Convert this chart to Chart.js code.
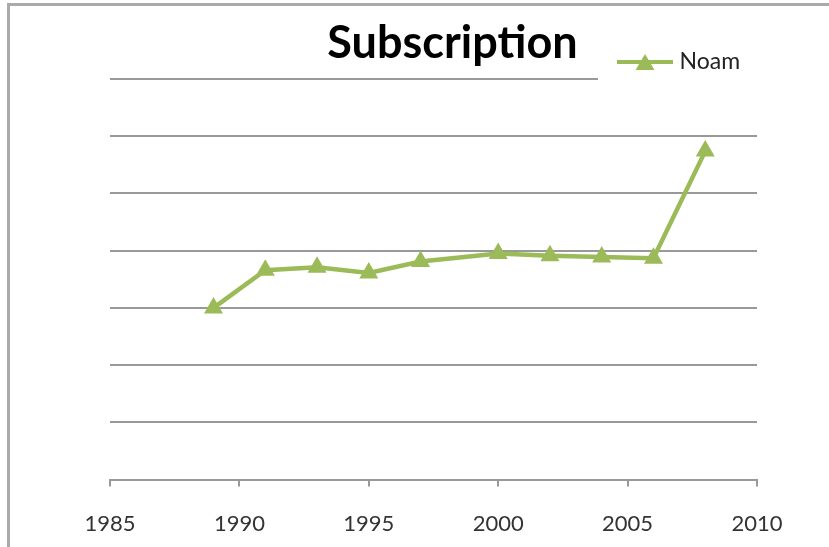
<!DOCTYPE html>
<html><head><meta charset="utf-8">
<script src="https://cdn.jsdelivr.net/npm/chart.js@4.4.1/dist/chart.umd.min.js"></script>
<style>
html,body{margin:0;padding:0;background:#fff;overflow:hidden;}
#wrap{position:relative;width:829px;height:547px;overflow:hidden;}
#frame{position:absolute;left:7px;top:3px;width:900px;height:600px;border-left:3px solid #aaaaaa;border-top:3px solid #aaaaaa;pointer-events:none;}
</style></head><body>
<div id="wrap"><canvas id="c" width="829" height="547"></canvas><div id="frame"></div></div>
<script>
const years = [1989, 1991, 1993, 1995, 1997, 2000, 2002, 2004, 2006, 2008];
const noam = [3.0, 3.66, 3.71, 3.61, 3.81, 3.95, 3.91, 3.89, 3.87, 5.74];
const xTickValues = [1985, 1990, 1995, 2000, 2005, 2010];
const seriesName = 'Noam';
const chartTitle = 'Subscription';
const green = '#9BBB59';

// legend sample: line with triangle marker
const mk = document.createElement('canvas');
mk.width = 56; mk.height = 20;
const g = mk.getContext('2d');
g.strokeStyle = green; g.lineWidth = 4;
g.beginPath(); g.moveTo(0, 10); g.lineTo(56, 10); g.stroke();
g.fillStyle = green;
g.beginPath(); g.moveTo(28, 2); g.lineTo(37.5, 18); g.lineTo(18.5, 18); g.closePath(); g.fill();

const placeBoxes = {
  id: 'placeBoxes',
  afterLayout(chart) {
    const t = chart.titleBlock;
    if (t) {
      const cx = 452.5, half = 200;
      const h = t.bottom - t.top;
      t.left = cx - half; t.right = cx + half;
      t.top = 21; t.bottom = 21 + h;
    }
    const l = chart.legend;
    if (l) {
      const pad = l.options.labels.padding;
      const fs = l.options.labels.font.size;
      const w = l.right - l.left, h = l.bottom - l.top;
      l.left = 622 - pad; l.right = l.left + w;
      l.top = 62 - fs / 2 - pad; l.bottom = l.top + h;
    }
  },
  afterDraw(chart) {
    // Legend box background hides the top gridline behind it
    const ctx = chart.ctx;
    ctx.save();
    ctx.fillStyle = '#ffffff';
    ctx.fillRect(598, 72, 170, 14);
    ctx.restore();
  }
};

new Chart(document.getElementById('c'), {
  type: 'line',
  data: {
    datasets: [{
      label: seriesName,
      data: years.map((x, i) => ({ x: x, y: noam[i] })),
      borderColor: green,
      backgroundColor: green,
      borderWidth: 4.5,
      pointStyle: 'triangle',
      pointRadius: 11,
      pointBorderWidth: 0,
      pointBackgroundColor: green,
      tension: 0
    }]
  },
  options: {
    responsive: false,
    animation: false,
    layout: { padding: { left: 110, right: 72, top: -5, bottom: -14 } },
    plugins: {
      title: {
        display: true,
        text: chartTitle,
        color: '#000',
        font: { family: 'Lato', size: 45, weight: 'bold', lineHeight: 1 },
        padding: 0
      },
      legend: {
        display: true,
        align: 'start',
        labels: {
          usePointStyle: true,
          pointStyleWidth: 46,
          padding: 6,
          color: '#222',
          font: { family: 'Lato', size: 23 },
          generateLabels(chart) {
            const items = Chart.defaults.plugins.legend.labels.generateLabels(chart);
            items.forEach(it => { it.pointStyle = mk; });
            return items;
          }
        }
      },
      tooltip: { enabled: false }
    },
    scales: {
      x: {
        type: 'linear',
        min: 1985, max: 2010,
        afterBuildTicks(scale) { scale.ticks = xTickValues.map(v => ({ value: v })); },
        ticks: {
          color: '#333',
          font: { family: 'Lato', size: 22 },
          padding: 24,
          maxRotation: 0,
          callback: v => String(v)
        },
        grid: { drawOnChartArea: false, drawTicks: true, tickLength: 7, color: '#999', lineWidth: 2 },
        border: { display: true, color: '#999', width: 2 }
      },
      y: {
        min: 0, max: 7,
        ticks: { display: false, stepSize: 1 },
        grid: { drawTicks: false, color: '#999', lineWidth: 2 },
        border: { display: false }
      }
    }
  },
  plugins: [placeBoxes]
});
</script>
</body></html>
